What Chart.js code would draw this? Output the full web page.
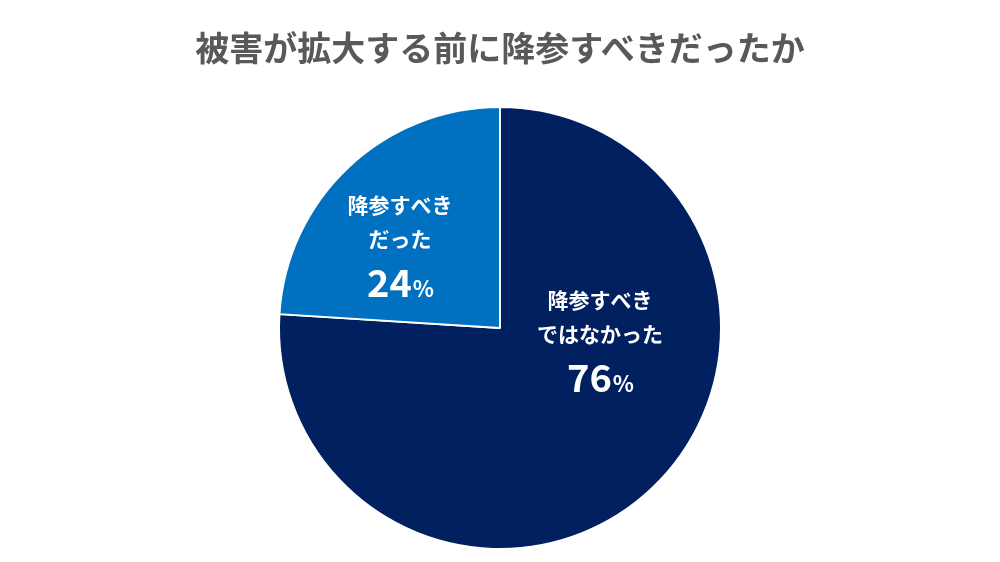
<!DOCTYPE html>
<html>
<head>
<meta charset="utf-8">
<script src="https://cdn.jsdelivr.net/npm/chart.js@4"></script>
<style>
body { margin: 0; background: #fff; }
#wrap { position: relative; width: 1000px; height: 562px; }
#title { position: absolute; top: 22px; width: 1000px; text-align: center; font: bold 34px "Noto Sans CJK JP"; color: #595959; }
</style>
</head>
<body>
<div id="wrap">
<div id="title">被害が拡大する前に降参すべきだったか</div>
<canvas id="canvas" width="1000" height="562"></canvas>
</div>
<script>
var labels = ['降参すべきではなかった', '降参すべきだった'];
var values = [76, 24];
var labelLines = [['降参すべき', 'ではなかった'], ['降参すべき', 'だった']];
var colors = ['#002060', '#0070C0'];
// ラベルの位置（円の中心からのずれ）
var offsets = [[100, -28], [-100, -123]];

var labelPlugin = {
  id: 'sliceLabels',
  afterDatasetsDraw: function(chart) {
    var ctx = chart.ctx;
    var meta = chart.getDatasetMeta(0);
    ctx.save();
    ctx.fillStyle = '#fff';
    ctx.textAlign = 'center';
    ctx.textBaseline = 'middle';
    meta.data.forEach(function(arc, i) {
      var x = arc.x + offsets[i][0];
      var y = arc.y + offsets[i][1];
      ctx.font = 'bold 21px "Noto Sans CJK JP"';
      labelLines[i].forEach(function(t, j) {
        ctx.fillText(t, x, y + j * 34);
      });
      // 数字と%
      var num = String(values[i]);
      ctx.font = 'bold 38px "Noto Sans CJK JP"';
      var w1 = ctx.measureText(num).width;
      ctx.font = 'bold 22px "Noto Sans CJK JP"';
      var w2 = ctx.measureText('%').width;
      var sx = x - (w1 + w2) / 2;
      var py = y + 78;
      ctx.textAlign = 'left';
      ctx.textBaseline = 'alphabetic';
      ctx.font = 'bold 38px "Noto Sans CJK JP"';
      ctx.fillText(num, sx, py + 14);
      ctx.font = 'bold 22px "Noto Sans CJK JP"';
      ctx.fillText('%', sx + w1 + 1, py + 14);
      ctx.textAlign = 'center';
      ctx.textBaseline = 'middle';
    });
    ctx.restore();
  }
};

new Chart(document.getElementById('canvas').getContext('2d'), {
  type: 'pie',
  data: {
    labels: labels,
    datasets: [{
      data: values,
      backgroundColor: colors,
      borderColor: '#fff',
      borderWidth: 2
    }]
  },
  options: {
    responsive: false,
    animation: false,
    layout: { padding: { top: 106, bottom: 12 } },
    plugins: { legend: { display: false }, tooltip: { enabled: false } }
  },
  plugins: [labelPlugin]
});
</script>
</body>
</html>
